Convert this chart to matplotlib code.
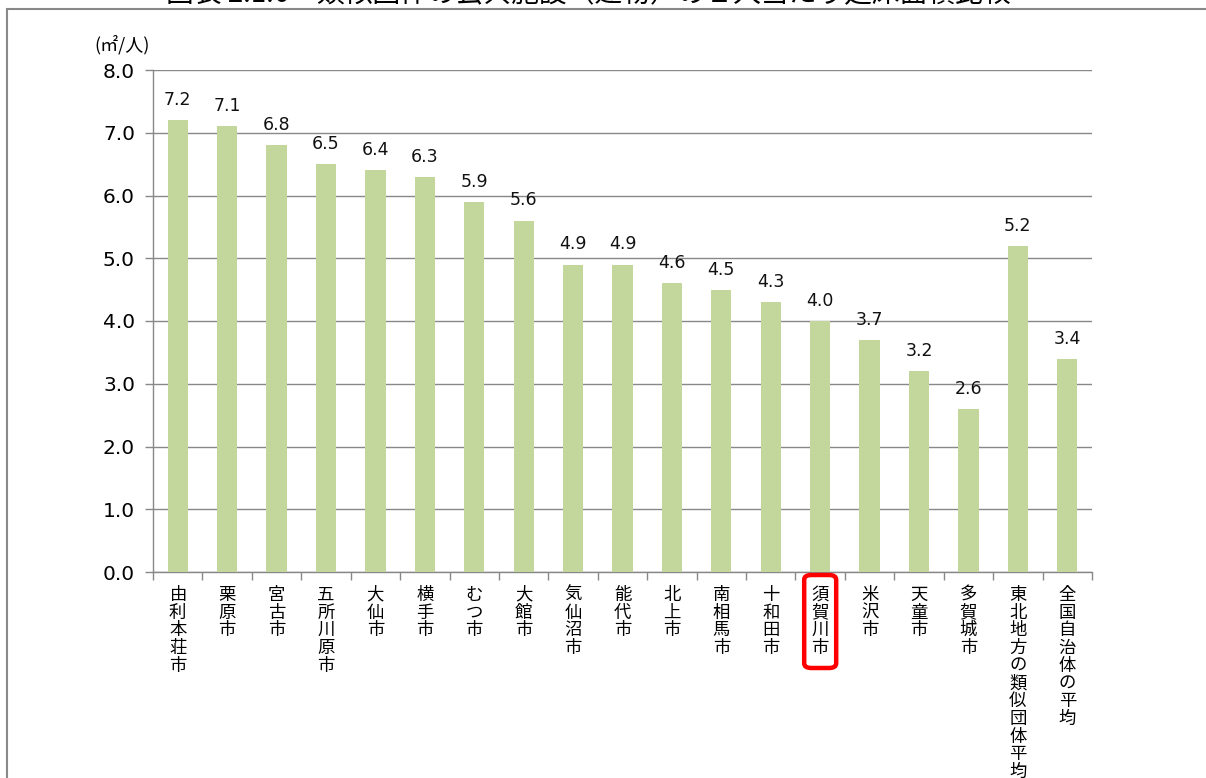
import matplotlib
matplotlib.use("Agg")
import matplotlib.pyplot as plt
from matplotlib.patches import FancyBboxPatch, Rectangle

plt.rcParams["font.family"] = ["DejaVu Sans", "Noto Sans CJK JP"]

# ── données ─────────────────────────────────────────────
cities = ["由利本荘市", "栗原市", "宮古市", "五所川原市", "大仙市", "横手市",
          "むつ市", "大館市", "気仙沼市", "能代市", "北上市", "南相馬市",
          "十和田市", "須賀川市", "米沢市", "天童市", "多賀城市",
          "東北地方の類似団体平均", "全国自治体の平均"]
area_per_person = [7.2, 7.1, 6.8, 6.5, 6.4, 6.3, 5.9, 5.6, 4.9, 4.9, 4.6,
                   4.5, 4.3, 4.0, 3.7, 3.2, 2.6, 5.2, 3.4]
yticks = [0.0, 1.0, 2.0, 3.0, 4.0, 5.0, 6.0, 7.0, 8.0]
highlight = "須賀川市"
title = "図表 2.1.6　類似団体の公共施設（建物）の１人当たり延床面積比較"

W, H = 1206, 778
fig = plt.figure(figsize=(W / 100, H / 100), dpi=100)
ax = fig.add_axes([153 / W, 1 - 572 / H, (1092 - 153) / W, (572 - 70) / H])

x = list(range(len(cities)))
ax.bar(x, area_per_person, width=0.41, color="#C3D69B", zorder=3)
for xi, v in zip(x, area_per_person):
    ax.annotate(f"{v:.1f}", (xi, v), xytext=(0, 8), textcoords="offset points",
                ha="center", va="bottom", fontsize=12.5, color="#111111")

ax.set_xlim(-0.5, len(cities) - 0.5)
ax.set_ylim(0, 8)
ax.set_yticks(yticks)
ax.set_yticklabels([f"{t:.1f}" for t in yticks], fontsize=14.5)
ax.yaxis.grid(True, color="#888888", lw=1.0, zorder=0)
ax.tick_params(axis="y", length=6, width=1, color="#888888", pad=7)

# ticks x aux frontières des catégories
ax.set_xticks([i - 0.5 for i in range(len(cities) + 1)])
ax.set_xticklabels([])
ax.tick_params(axis="x", length=6, width=1, color="#888888")
for xi, name in zip(x, cities):
    ax.text(xi, -0.22, "\n".join(name), ha="center", va="top", fontsize=12.5,
            linespacing=0.98, family=["Noto Sans CJK JP", "DejaVu Sans"],
            transform=ax.transData)

for s in ["top", "right"]:
    ax.spines[s].set_visible(False)
for s in ["left", "bottom"]:
    ax.spines[s].set_color("#888888")
    ax.spines[s].set_linewidth(1.0)

# encadré rouge autour de 須賀川市
hx = cities.index(highlight)
x0 = ax.transData.transform((hx, 0))[0] / W
box = FancyBboxPatch((x0 - 16 / W, 1 - 668 / H), 32 / W, 93 / H,
                     boxstyle="round,pad=0,rounding_size=0.006",
                     transform=fig.transFigure, fill=False, ec="#FF0000", lw=3.2)
fig.patches.append(box)

# unité
fig.text(94 / W, 1 - 45 / H, "(㎡/人)", fontsize=13, va="center", ha="left",
         family=["Noto Sans CJK JP", "DejaVu Sans"])

# cadre extérieur et titre tronqué
fig.patches.append(Rectangle((7 / W, -0.1), 1.2, 1 - 9 / H + 0.1,
                             transform=fig.transFigure, fill=False,
                             ec="#888888", lw=1.5))
fig.text(588 / W, 1 - 2 / H, title, fontsize=20, ha="center", va="baseline",
         family=["Noto Sans CJK JP", "DejaVu Sans"])

fig.savefig("out.png", dpi=100)
